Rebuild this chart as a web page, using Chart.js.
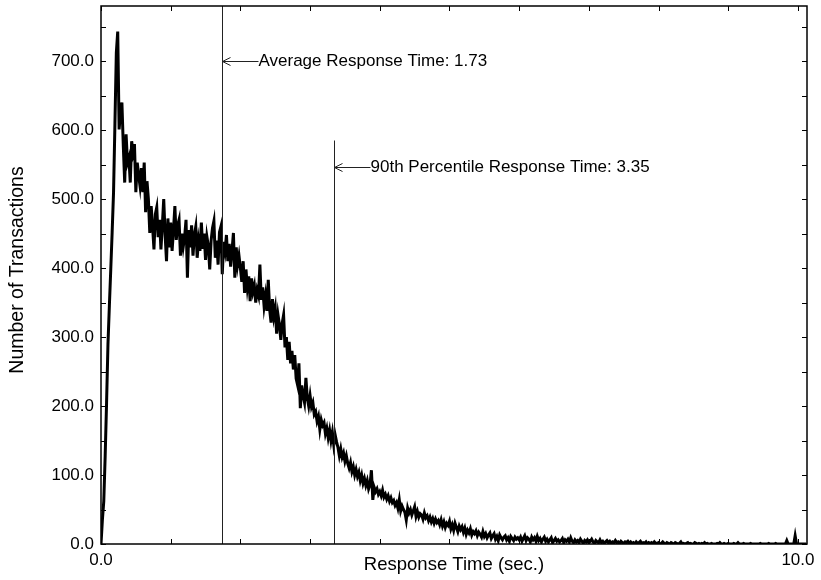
<!DOCTYPE html>
<html>
<head>
<meta charset="utf-8">
<script src="https://cdn.jsdelivr.net/npm/chart.js@4.4.1/dist/chart.umd.min.js"></script>
<style>
  html, body { margin: 0; padding: 0; background: #ffffff; }
  #wrap { width: 821px; height: 580px; }
</style>
</head>
<body>
<div id="wrap"><canvas id="c" width="821" height="580"></canvas></div>
<script>
// ---- data ----
const binWidth = 0.02; // seconds per histogram bin
const counts = [
  0, 35, 62, 128, 205, 290, 345, 398, 452, 510,
  610, 712, 743, 601, 625, 640, 577, 524, 594, 553,
  560, 524, 584, 568, 580, 510, 553, 535, 519, 545,
  510, 553, 481, 526, 500, 451, 490, 460, 427, 478,
  488, 445, 470, 427, 462, 500, 448, 410, 472, 430,
  466, 425, 455, 490, 441, 462, 470, 418, 450, 431,
  445, 470, 386, 455, 430, 462, 418, 448, 460, 415,
  440, 425, 466, 428, 450, 412, 445, 432, 398, 440,
  458, 468, 415, 440, 405, 452, 460, 391, 438, 425,
  448, 410, 435, 402, 425, 451, 386, 430, 405, 418,
  400, 380, 410, 364, 398, 372, 388, 352, 385, 366,
  375, 350, 368, 360, 405, 354, 372, 345, 360, 338,
  383, 340, 321, 355, 330, 342, 305, 332, 318, 296,
  320, 332, 285, 300, 267, 293, 262, 280, 253, 274,
  240, 231, 262, 197, 230, 215, 205, 241, 212, 200,
  215, 199, 205, 188, 192, 178, 185, 166, 180, 172,
  176, 160, 168, 154, 165, 150, 162, 144, 158, 148,
  140, 128, 138, 126, 132, 120, 128, 117, 110, 118,
  105, 112, 100, 108, 98, 104, 92, 100, 88, 95,
  85, 92, 80, 86, 107, 64, 82, 76, 80, 72,
  76, 70, 78, 68, 72, 65, 70, 62, 67, 60,
  63, 56, 60, 52, 64, 48, 55, 50, 46, 35,
  52, 45, 50, 42, 48, 54, 40, 47, 39, 44,
  42, 36, 45, 38, 41, 34, 39, 32, 37, 30,
  36, 31, 34, 28, 35, 26, 32, 24, 30, 27,
  33, 22, 28, 20, 30, 24, 18, 26, 21, 25,
  17, 23, 14, 20, 16, 22, 13, 18, 15, 19,
  12, 17, 14, 10, 18, 11, 15, 9, 13, 16,
  8, 12, 15, 7, 11, 5, 13, 9, 6, 10,
  12, 6, 9, 4, 11, 8, 5, 10, 7, 9,
  6, 10, 4, 8, 12, 5, 9, 7, 3, 10,
  6, 9, 4, 11, 5, 8, 3, 7, 10, 4,
  7, 3, 6, 9, 2, 5, 8, 4, 6, 3,
  5, 8, 2, 6, 4, 7, 3, 9, 4, 2,
  6, 3, 5, 2, 7, 4, 1, 5, 3, 6,
  2, 4, 7, 3, 1, 5, 3, 2, 6, 2,
  4, 1, 3, 5, 2, 4, 1, 3, 2, 5,
  2, 3, 1, 4, 2, 1, 3, 2, 4, 1,
  3, 1, 2, 0, 3, 1, 2, 4, 1, 2,
  1, 3, 0, 2, 1, 2, 0, 3, 1, 1,
  2, 0, 1, 3, 1, 0, 2, 1, 0, 2,
  1, 0, 2, 1, 0, 1, 3, 0, 1, 0,
  1, 2, 0, 1, 0, 0, 2, 1, 0, 1,
  0, 1, 0, 2, 0, 1, 0, 0, 1, 0,
  0, 0, 1, 0, 2, 0, 0, 1, 0, 0,
  1, 0, 0, 0, 1, 0, 0, 2, 0, 0,
  0, 1, 0, 0, 0, 0, 1, 0, 0, 0,
  0, 0, 0, 1, 0, 0, 0, 0, 0, 1,
  0, 0, 0, 0, 1, 0, 0, 0, 0, 0,
  0, 0, 5, 0, 0, 0, 0, 0, 12, 0,
  0, 0, 0, 0, 0, 0, 0
];
const xTickValues = [0, 1, 2, 3, 4, 5, 6, 7, 8, 9, 10];
const xLabelValues = [0, 10];
const yTickValues = [0, 50, 100, 150, 200, 250, 300, 350, 400, 450, 500, 550, 600, 650, 700, 750];
const yLabelValues = [0, 100, 200, 300, 400, 500, 600, 700];
const xRange = [0, 10.13];
const yRange = [0, 780];

const markerTimes = [1.73, 3.35];
const markerLabels = ['Average Response Time: 1.73', '90th Percentile Response Time: 3.35'];
const markerLineTops = [780, 585];
const markerArrowLevels = [700, 546];

const xTitle = 'Response Time (sec.)';
const yTitle = 'Number of Transactions';

// ---- build ----
const points = counts.map((v, i) => ({ x: +(i * binWidth).toFixed(2), y: v }));
const FAMILY = '"Liberation Sans", Arial, sans-serif';
const FONT = '17px ' + FAMILY;
const XTITLE_FONT = '18.5px ' + FAMILY;
const YTITLE_FONT = '19.5px ' + FAMILY;

const framePlugin = {
  id: 'framePlugin',
  afterDraw(chart) {
    const { ctx, chartArea: a, scales: { x, y } } = chart;
    const seg = (x1, y1, x2, y2) => { ctx.beginPath(); ctx.moveTo(x1, y1); ctx.lineTo(x2, y2); ctx.stroke(); };
    ctx.save();
    // markers
    ctx.strokeStyle = '#222';
    ctx.lineWidth = 1;
    ctx.fillStyle = '#000';
    ctx.font = FONT;
    ctx.textBaseline = 'middle';
    ctx.textAlign = 'left';
    markerTimes.forEach((t, i) => {
      const px = Math.round(x.getPixelForValue(t)) + 0.5;
      const top = y.getPixelForValue(markerLineTops[i]);
      seg(px, top, px, a.bottom);
      const py = Math.round(y.getPixelForValue(markerArrowLevels[i])) + 0.5;
      seg(px, py, px + 36, py);
      seg(px, py, px + 8, py - 4);
      seg(px, py, px + 8, py + 4);
      ctx.fillText(markerLabels[i], px + 36, py);
    });
    // frame
    ctx.strokeStyle = '#000';
    ctx.lineWidth = 1.5;
    ctx.strokeRect(a.left, a.top, a.right - a.left, a.bottom - a.top);
    ctx.lineWidth = 1;
    yTickValues.forEach(v => {
      const py = Math.round(y.getPixelForValue(v)) + 0.5;
      seg(a.left, py, a.left + 5, py);
      seg(a.right - 5, py, a.right, py);
    });
    xTickValues.forEach(v => {
      const px = Math.round(x.getPixelForValue(v)) + 0.5;
      seg(px, a.bottom, px, a.bottom - 5);
      seg(px, a.top, px, a.top + 5);
    });
    // titles
    ctx.textAlign = 'center';
    ctx.textBaseline = 'middle';
    ctx.font = XTITLE_FONT;
    ctx.fillText(xTitle, (a.left + a.right) / 2, a.bottom + 21);
    ctx.font = YTITLE_FONT;
    ctx.translate(18, 270);
    ctx.rotate(-Math.PI / 2);
    ctx.fillText(yTitle, 0, 0);
    ctx.restore();
  }
};

new Chart(document.getElementById('c'), {
  type: 'line',
  data: {
    datasets: [{
      data: points,
      borderColor: '#000',
      borderWidth: 3,
      pointRadius: 0,
      tension: 0,
      fill: false
    }]
  },
  options: {
    responsive: false,
    animation: false,
    events: [],
    layout: { padding: 0 },
    plugins: { legend: { display: false }, tooltip: { enabled: false } },
    scales: {
      x: {
        type: 'linear',
        min: xRange[0], max: xRange[1],
        grid: { display: false, drawTicks: false },
        border: { display: false },
        afterBuildTicks: s => { s.ticks = xTickValues.map(v => ({ value: v })); },
        afterFit: s => { s.height = 36; s.paddingLeft = 0; s.paddingRight = 14; },
        ticks: {
          color: '#000',
          font: { family: FAMILY, size: 17 },
          padding: 6,
          maxRotation: 0,
          autoSkip: false,
          callback: v => xLabelValues.includes(v) ? v.toFixed(1) : ''
        }
      },
      y: {
        type: 'linear',
        min: yRange[0], max: yRange[1],
        grid: { display: false, drawTicks: false },
        border: { display: false },
        afterBuildTicks: s => { s.ticks = yTickValues.map(v => ({ value: v })); },
        afterFit: s => { s.width = 101; s.paddingTop = 6; s.paddingBottom = 0; },
        ticks: {
          color: '#000',
          font: { family: FAMILY, size: 17 },
          padding: 7,
          autoSkip: false,
          callback: v => yLabelValues.includes(v) ? v.toFixed(1) : ''
        }
      }
    }
  },
  plugins: [framePlugin]
});
</script>
</body>
</html>
